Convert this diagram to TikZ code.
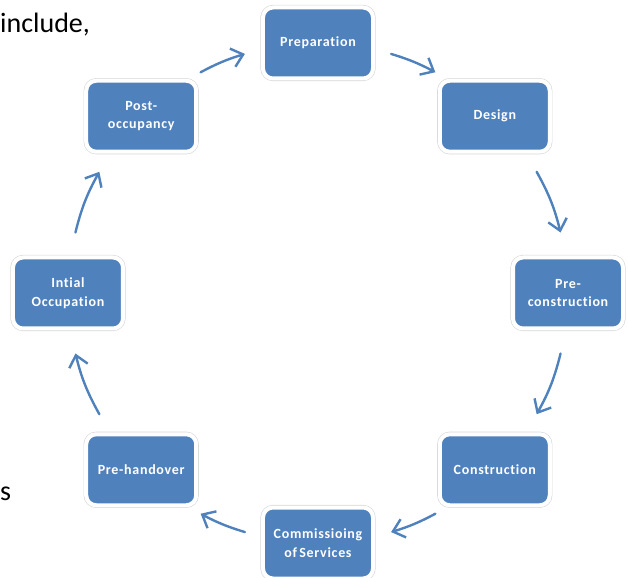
\documentclass[tikz,border=0pt]{standalone}
\usepackage{fontspec}
\newfontfamily\stagefont[LetterSpace=5, Ligatures=NoCommon]{Carlito}
\newfontfamily\pagefont{Carlito}
\usepackage{tikz}
\usetikzlibrary{arrows.meta, calc}
\definecolor{stageblue}{RGB}{79,129,189}
\definecolor{ringgray}{RGB}{214,214,214}
\tikzstyle{stage}=[rectangle, rounded corners=10pt, fill=stageblue, draw=white, line width=4pt, preaction={draw=ringgray, line width=5.2pt}, minimum width=110pt, minimum height=71pt, inner sep=0pt, align=center, text=white, font=\stagefont\bfseries\fontsize{14}{18.5}\selectfont]
\tikzstyle{flow}=[draw=stageblue, line width=2.4pt, line cap=round, -{Straight Barb[length=11pt,width=19pt,line width=2.4pt]}]
\tikzstyle{pagetext}=[inner sep=0pt, text=black, font=\pagefont\fontsize{28}{34}\selectfont]

\begin{document}
\begin{tikzpicture}[x=1pt, y=1pt]

\useasboundingbox (-318,-285) rectangle (311,293);

% page text round the diagram
\node[pagetext, anchor=base west] (include) at (-318,260) {include,};
\node[pagetext, anchor=base west] (tail) at (-318,-207) {s};

% the stages, clockwise from the top
\coordinate (hub) at (0,0);
\node[stage] (prep)    at (90:250)   {Preparation};
\node[stage] (design)  at (45:250)   {Design};
\node[stage] (precon)  at (0:250)    {Pre-\\construction};
\node[stage] (constr)  at (-45:250)  {Construction};
\node[stage] (comm)    at (-90:250)  {Commissioing\\of\,Services};
\node[stage] (prehand) at (-135:250) {Pre-handover};
\node[stage] (intial)  at (180:250)  {Intial\\Occupation};
\node[stage] (post)    at (135:250)  {Post-\\occupancy};

% arrows on the circle
\draw[flow] ($(hub)!1!-17:(post)$)    to[bend left=5.5] ($(hub)!1!17:(prep)$);
\draw[flow] ($(hub)!1!-17:(prep)$)    to[bend left=5.5] ($(hub)!1!17:(design)$);
\draw[flow] ($(hub)!1!-16:(design)$)  to[bend left=7.5] ($(hub)!1!14:(precon)$);
\draw[flow] ($(hub)!1!-14:(precon)$)  to[bend left=7.5] ($(hub)!1!16:(constr)$);
\draw[flow] ($(hub)!1!-17:(constr)$)  to[bend left=5.5] ($(hub)!1!17:(comm)$);
\draw[flow] ($(hub)!1!-17:(comm)$)    to[bend left=5.5] ($(hub)!1!17:(prehand)$);
\draw[flow] ($(hub)!1!-16:(prehand)$) to[bend left=7.5] ($(hub)!1!14:(intial)$);
\draw[flow] ($(hub)!1!-14:(intial)$)  to[bend left=7.5] ($(hub)!1!16:(post)$);

\end{tikzpicture}
\end{document}
